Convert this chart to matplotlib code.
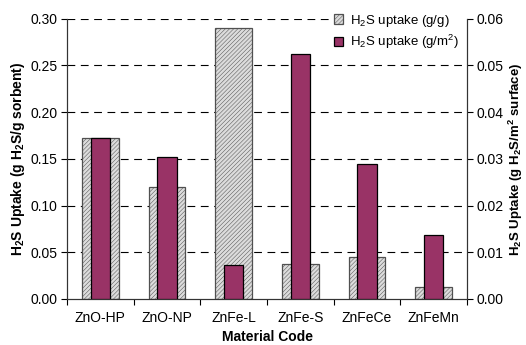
import numpy as np
import matplotlib.pyplot as plt

plt.rcParams['font.family'] = ['Liberation Sans', 'DejaVu Sans']
plt.rcParams['mathtext.default'] = 'regular'
plt.rcParams['hatch.color'] = '#c8c8c8'
plt.rcParams['hatch.linewidth'] = 0.35

materials = ["ZnO-HP", "ZnO-NP", "ZnFe-L", "ZnFe-S", "ZnFeCe", "ZnFeMn"]
uptake_gg = [0.172, 0.120, 0.290, 0.037, 0.045, 0.0125]
uptake_gm2 = [0.0345, 0.0305, 0.0073, 0.0524, 0.0290, 0.0137]

fig = plt.figure(figsize=(5.26, 3.45), dpi=100)
ax = fig.add_axes([67/526, 1 - 299/345, 400/526, (299 - 18.7)/345])
ax2 = ax.twinx()

x = np.arange(len(materials))
b1 = ax.bar(x, uptake_gg, width=0.55, color='#dcdcdc', edgecolor='#505050',
            linewidth=0.9, hatch='////////', zorder=2)
b2 = ax2.bar(x, uptake_gm2, width=0.29, color='#993366', edgecolor='black',
             linewidth=0.9, zorder=3)

ax.set_xlim(-0.5, len(materials) - 0.5)
ax.set_ylim(0, 0.30)
ax2.set_ylim(0, 0.06)
left_ticks = np.arange(0, 0.301, 0.05)
right_ticks = np.arange(0, 0.061, 0.01)
ax.set_yticks(left_ticks)
ax2.set_yticks(right_ticks)
ax.set_yticklabels([f"{v:.2f}" for v in left_ticks])
ax2.set_yticklabels([f"{v:.2f}" for v in right_ticks])

# dashed gridlines sit behind the bars
for v in left_ticks[1:]:
    ax.axhline(v, color='black', linestyle=(0, (7, 5)), linewidth=0.8, zorder=1)

ax.set_xticks(x)
ax.set_xticklabels(materials)
ax.tick_params(axis='x', length=0, pad=9, labelsize=10)
ax.set_xticks(np.arange(-0.5, len(materials)), minor=True)
ax.tick_params(axis='x', which='minor', length=4, width=0.8, direction='out')
ax.tick_params(axis='y', labelsize=10, length=4, width=0.8, direction='out', pad=3)
ax2.tick_params(axis='y', labelsize=10, length=4, width=0.8, direction='out', pad=3)

for a in (ax, ax2):
    a.spines['top'].set_visible(False)
    for s in ('left', 'right', 'bottom'):
        a.spines[s].set_linewidth(0.8)
        a.spines[s].set_color('#333333')

ax.set_xlabel('Material Code', fontsize=10, fontweight='bold', labelpad=3)
ax.set_ylabel('H$_2$S Uptake (g H$_2$S/g sorbent)', fontsize=10,
              fontweight='bold', labelpad=2)
ax2.set_ylabel('H$_2$S Uptake (g H$_2$S/m$^2$ surface)', fontsize=9.5,
               fontweight='bold', labelpad=2)

ax2.legend([b1, b2], ['H$_2$S uptake (g/g)', 'H$_2$S uptake (g/m$^2$)'],
           loc='upper left', bbox_to_anchor=(0.645, 1.055), fontsize=9.5,
           frameon=True, fancybox=False, edgecolor='none', framealpha=1,
           handlelength=0.7, handleheight=0.7, handletextpad=0.5,
           labelspacing=0.35, borderpad=0.2)

fig.savefig('out.png', dpi=100)
